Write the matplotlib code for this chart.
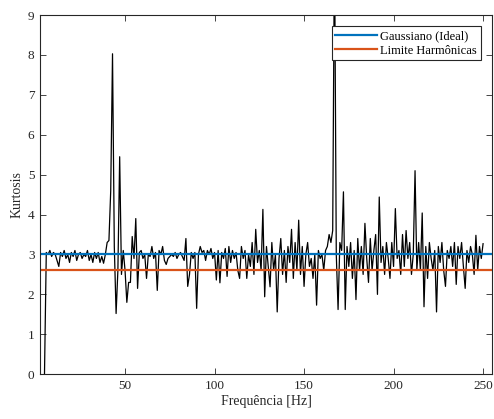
import matplotlib
matplotlib.use("Agg")
import matplotlib.pyplot as plt
import numpy as np

# frequencias (Hz) e valores de kurtosis
freq = np.arange(5, 251, 1)
kurt = [
    0.0, 3.05, 3.0, 3.1, 2.95, 3.05, 3.0, 2.85, 2.7, 3.05,
    2.95, 3.1, 2.9, 3.0, 2.8, 3.05, 2.95, 3.1, 2.85, 3.0,
    3.05, 2.9, 3.0, 2.95, 3.1, 2.85, 3.0, 2.8, 3.05, 2.9,
    3.05, 2.8, 2.95, 2.78, 3.0, 3.3, 3.35, 4.6, 8.03, 3.2,
    1.52, 2.6, 5.45, 2.5, 3.1, 2.6, 1.8, 2.3, 2.3, 3.45,
    2.9, 3.9, 2.15, 3.05, 3.1, 2.9, 3.0, 2.4, 3.0, 2.95,
    3.2, 2.9, 3.05, 2.1, 3.1, 3.0, 3.2, 2.85, 2.75, 2.9,
    2.95, 3.0, 2.95, 3.05, 2.9, 3.0, 3.05, 2.95, 2.85, 3.4,
    2.2, 2.5, 3.05, 2.9, 3.05, 1.65, 3.0, 3.2, 3.05, 3.1,
    2.85, 3.1, 3.0, 3.15, 2.9, 3.05, 2.36, 3.1, 2.29, 3.05,
    2.9, 3.15, 2.45, 3.2, 2.8, 3.1, 2.9, 3.05, 2.6, 2.4,
    3.2, 2.9, 3.1, 2.4, 3.0, 2.7, 3.3, 2.5, 3.63, 2.8,
    3.1, 2.6, 4.13, 1.94, 3.2, 2.7, 2.19, 3.3, 2.6, 3.0,
    1.56, 2.9, 3.4, 2.5, 3.1, 2.3, 3.2, 2.8, 3.63, 2.4,
    3.3, 2.6, 3.86, 2.5, 3.2, 2.2, 3.0, 3.3, 2.7, 2.9,
    2.4, 3.0, 1.73, 3.1, 2.9, 3.0, 2.6, 3.1, 3.2, 3.5,
    3.3, 3.6, 11.0, 3.0, 1.62, 3.3, 3.1, 4.57, 1.62, 3.2,
    2.7, 3.3, 2.4, 3.1, 1.87, 3.4, 2.6, 3.2, 2.5, 3.78,
    2.9, 2.3, 3.4, 2.6, 3.1, 3.5, 2.0, 4.44, 2.8, 3.2,
    2.5, 3.3, 2.9, 2.4, 3.3, 2.7, 4.15, 2.9, 3.1, 2.5,
    3.5, 2.7, 3.6, 2.9, 3.3, 2.5, 3.0, 5.1, 2.6, 3.3,
    2.6, 4.04, 1.69, 3.2, 2.4, 3.3, 2.9, 2.6, 3.1, 1.56,
    3.2, 2.8, 3.3, 2.6, 2.2, 3.1, 2.9, 3.2, 2.7, 3.3,
    2.25, 3.2, 2.9, 3.3, 2.7, 2.15, 3.1, 2.8, 3.2, 3.0,
    2.5, 3.48, 2.6, 3.2, 2.9, 3.27,
]
gauss_ideal = 3.0
limite_harm = 2.6

plt.rcParams['font.family'] = ['Liberation Serif', 'DejaVu Serif']

fig = plt.figure(figsize=(4.94, 4.19), dpi=100)
ax = fig.add_axes([0.081, 0.107, 0.915, 0.857])

ax.plot(freq, kurt, color='black', linewidth=0.9)
ax.axhline(gauss_ideal, color='#0072BD', linewidth=1.6, label='Gaussiano (Ideal)')
ax.axhline(limite_harm, color='#D95319', linewidth=1.6, label='Limite Harmônicas')

ax.set_xlim(2.5, 255)
ax.set_ylim(0, 9)
ax.set_xticks([50, 100, 150, 200, 250])
ax.set_yticks(range(0, 10))
ax.tick_params(direction='in', top=True, right=True, length=4, width=0.6,
               colors='#262626', labelsize=9.5, pad=4)
for s in ax.spines.values():
    s.set_color('#262626')
    s.set_linewidth(0.8)

ax.set_xlabel('Frequência [Hz]', fontsize=10, color='#262626', labelpad=2)
ax.set_ylabel('Kurtosis', fontsize=10, color='#262626', labelpad=3)

leg = ax.legend(loc='upper right', fontsize=9, handlelength=3.3, fancybox=False,
                framealpha=1, edgecolor='#262626', borderpad=0.3,
                labelspacing=0.2, handletextpad=0.3, borderaxespad=0.9)
leg.get_frame().set_linewidth(0.8)

fig.savefig('out.png', dpi=100)
